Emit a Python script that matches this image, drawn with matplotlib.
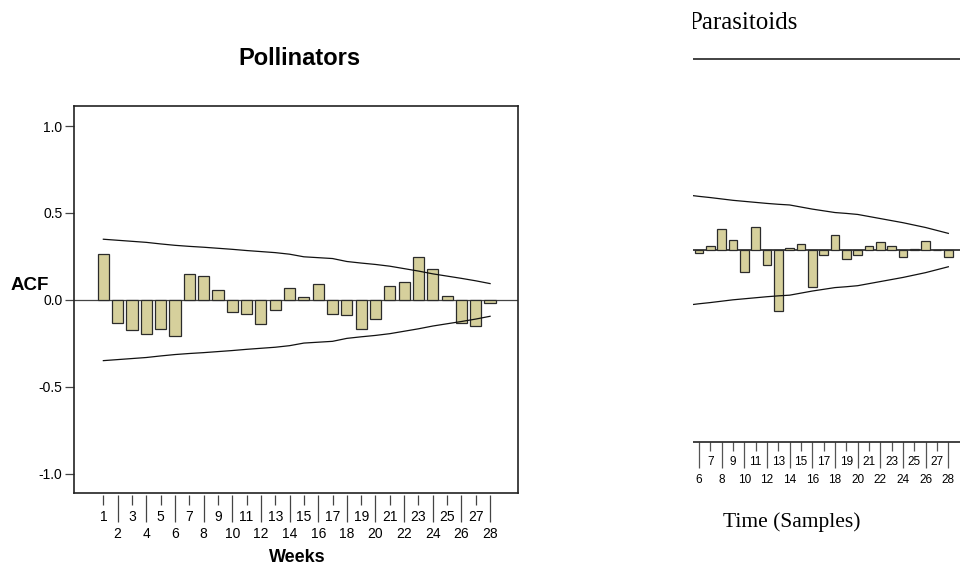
import matplotlib.pyplot as plt
from matplotlib.patches import Rectangle
import numpy as np

plt.rcParams['font.family'] = ['Liberation Sans', 'DejaVu Sans']

# Pollinators: autocorrelation per lag (weeks 1..28) and upper confidence limit
poll_lags = np.arange(1, 29)
poll_acf = [0.263, -0.130, -0.172, -0.197, -0.165, -0.207, 0.151, 0.136, 0.056, -0.069,
            -0.080, -0.140, -0.059, 0.068, 0.015, 0.094, -0.080, -0.086, -0.168, -0.107,
            0.082, 0.101, 0.245, 0.180, 0.021, -0.134, -0.147, -0.015]
poll_conf = [0.349, 0.343, 0.337, 0.331, 0.322, 0.314, 0.308, 0.303, 0.297, 0.291,
             0.284, 0.278, 0.272, 0.263, 0.248, 0.243, 0.238, 0.221, 0.212, 0.204,
             0.194, 0.180, 0.166, 0.150, 0.137, 0.124, 0.110, 0.094]

# Parasitoids: only lags 6..28 are visible in the cropped panel
para_lags = np.arange(6, 29)
para_acf = [-0.019, 0.025, 0.124, 0.060, -0.128, 0.132, -0.089, -0.355, 0.014, 0.033,
            -0.215, -0.027, 0.085, -0.054, -0.029, 0.025, 0.047, 0.021, -0.043, 0.008,
            0.054, 0.002, -0.043]
para_conf_lags = np.arange(5, 29)
para_conf = [0.320, 0.312, 0.305, 0.297, 0.289, 0.283, 0.277, 0.271, 0.266, 0.262,
             0.250, 0.238, 0.228, 0.218, 0.213, 0.207, 0.195, 0.183, 0.171, 0.159,
             0.145, 0.131, 0.114, 0.097]

y_ticks = [-1.0, -0.5, 0.0, 0.5, 1.0]
y_labels = ['-1.0', '-0.5', '0.0', '0.5', '1.0']

BAR = '#d6d09c'
EDGE = '#2b2b2b'
W, H = 960, 566


def px(l, t, r, b):
    return [l / W, 1 - b / H, (r - l) / W, (b - t) / H]


fig = plt.figure(figsize=(9.6, 5.66), dpi=100)

# ---- left panel: Pollinators
ax = fig.add_axes(px(74, 106, 518, 493))
ax.bar(poll_lags, poll_acf, width=0.78, color=BAR, edgecolor=EDGE, linewidth=0.9, zorder=3)
ax.plot(poll_lags, poll_conf, color='#111', lw=0.9, zorder=4)
ax.plot(poll_lags, -np.array(poll_conf), color='#111', lw=0.9, zorder=4)
ax.axhline(0, color='#444', lw=0.9, zorder=2)
ax.set_xlim(-1.05, 29.95)
ax.set_ylim(-1.11, 1.115)

for s in ['top', 'left', 'right']:
    ax.spines[s].set_color('#222')
    ax.spines[s].set_linewidth(1.2)
ax.spines['bottom'].set_color('none')
ax.spines['bottom'].set_position(('outward', 1.5))
ax.plot([0, 1], [0, 0], transform=ax.transAxes, color='#222', lw=1.2, clip_on=False)

even = poll_lags[1::2]
odd = poll_lags[0::2]
ax.set_xticks(even, labels=[str(v) for v in even])
ax.set_xticks(odd, labels=[str(v) for v in odd], minor=True)
ax.tick_params(axis='x', which='major', length=19.4, pad=3.5, width=0.9, color='#444', labelsize=10)
ax.tick_params(axis='x', which='minor', length=7.2, pad=3.5, width=0.9, color='#444', labelsize=10)
ax.set_yticks(y_ticks, labels=y_labels)
ax.tick_params(axis='y', length=6.7, pad=1.5, width=0.9, color='#444', labelsize=10)

fig.text(299 / W, 1 - 58.7 / H, 'Pollinators', ha='center', va='center',
         fontsize=17, fontweight='bold')
fig.text(48.5 / W, 1 - 290 / H, 'ACF', ha='right', va='baseline',
         fontsize=13.5, fontweight='bold')
fig.text(297 / W, 1 - 561.5 / H, 'Weeks', ha='center', va='baseline',
         fontsize=13, fontweight='bold')

# ---- right panel: Parasitoids (cropped at the left edge)
ax2 = fig.add_axes(px(692.5, 59, 971, 442))
ax2.bar(para_lags, para_acf, width=0.78, color=BAR, edgecolor=EDGE, linewidth=0.9, zorder=3)
ax2.plot(para_conf_lags, para_conf, color='#111', lw=0.9, zorder=4)
ax2.plot(para_conf_lags, -np.array(para_conf), color='#111', lw=0.9, zorder=4)
ax2.axhline(0, color='#111', lw=1.1, zorder=2)
ax2.set_xlim(5.43, 30)
ax2.set_ylim(-1.115, 1.11)
ax2.spines['left'].set_visible(False)
ax2.spines['right'].set_visible(False)
for s in ['top', 'bottom']:
    ax2.spines[s].set_color('#222')
    ax2.spines[s].set_linewidth(1.2)
ax2.set_yticks([])

p_even = para_lags[0::2]
p_odd = para_lags[1::2]
ax2.set_xticks(p_even, labels=[str(v) for v in p_even])
ax2.set_xticks(p_odd, labels=[str(v) for v in p_odd], minor=True)
ax2.tick_params(axis='x', which='major', length=18.7, pad=4, width=0.9, color='#555', labelsize=8.5)
ax2.tick_params(axis='x', which='minor', length=6.8, pad=3, width=0.9, color='#555', labelsize=8.5)

serif = ['Liberation Serif', 'DejaVu Serif']
fig.text(688.5 / W, 1 - 29.3 / H, 'Parasitoids', ha='left', va='baseline',
         fontsize=18, family=serif)
fig.text(723 / W, 1 - 526.7 / H, 'Time (Samples)', ha='left', va='baseline',
         fontsize=15.5, family=serif)

# white strip hiding whatever of the right panel lies left of the crop
fig.add_artist(Rectangle((560 / W, 0), (692.5 - 560) / W, 1, transform=fig.transFigure,
                         facecolor='white', edgecolor='none', zorder=10))

fig.savefig('out.png', dpi=100)
